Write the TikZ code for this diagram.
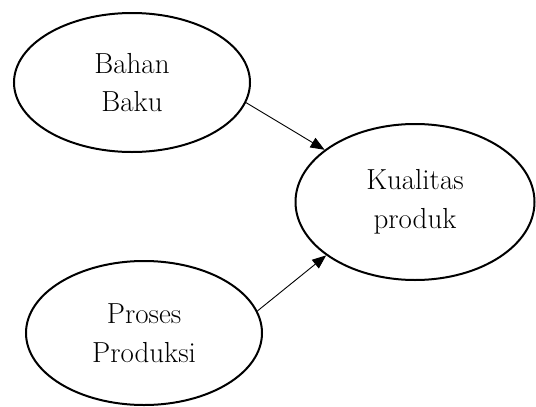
\documentclass[tikz,border=0pt]{standalone}
\usepackage{fontspec}
\setmainfont{Latin Modern Roman}
\usetikzlibrary{shapes.geometric,arrows.meta}
\begin{document}
\begin{tikzpicture}[x=1pt,y=-1pt,
  oval/.style={ellipse, draw, line width=2pt, inner sep=0pt, align=center,
    font=\fontsize{29}{38.5}\selectfont},
  link/.style={line width=0.9pt, -{Triangle[length=14pt,width=11pt]}}]
\useasboundingbox (0,0) rectangle (536,407);
\node[oval, minimum width=236pt, minimum height=139pt] (bb) at (132,82.5) {Bahan\\Baku};
\node[oval, minimum width=239pt, minimum height=156pt] (kp) at (415,202) {Kualitas\\produk};
\node[oval, minimum width=236pt, minimum height=144pt] (pp) at (144,333) {Proses\\Produksi};
\draw[link] (bb.-10) -- (kp.150);
\draw[link] (pp.11) -- (kp.-149);
\end{tikzpicture}
\end{document}
